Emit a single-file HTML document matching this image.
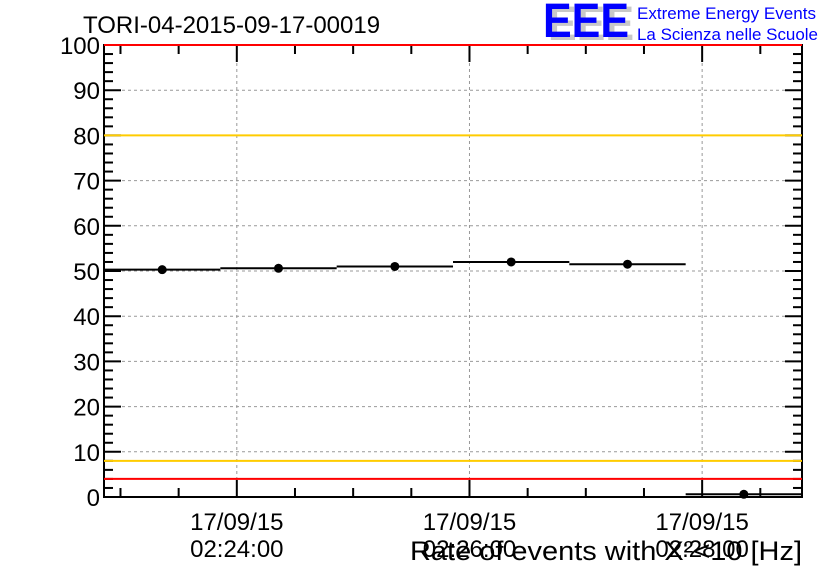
<!DOCTYPE html>
<html><head><meta charset="utf-8"><style>
body{margin:0;background:#fff;}
svg{display:block;font-family:"Liberation Sans",sans-serif;}
</style></head><body>
<svg id="c" width="836" height="572">
<text x="83" y="33" font-size="24">TORI-04-2015-09-17-00019</text>
<g>
<text x="548" y="40" font-size="48" font-weight="bold" fill="#c8c8c8" textLength="86" lengthAdjust="spacingAndGlyphs">EEE</text>
<text x="543" y="37" font-size="48" font-weight="bold" fill="#0000ff" textLength="86" lengthAdjust="spacingAndGlyphs">EEE</text>
<text x="637" y="19" font-size="17" fill="#0000ff" textLength="179" lengthAdjust="spacingAndGlyphs">Extreme Energy Events</text>
<text x="637" y="40" font-size="17" fill="#0000ff" textLength="181" lengthAdjust="spacingAndGlyphs">La Scienza nelle Scuole</text>
</g>
<g id="grid"></g><g id="axes"></g><g id="marks"></g>
<text x="802" y="560" font-size="27" text-anchor="end" textLength="392" lengthAdjust="spacingAndGlyphs">Rate of events with X²&lt;10 [Hz]</text>
</svg>
<script>
const binStarts=[-68.5,-8.5,51.5,111.5,171.5,231.5];
const rates=[50.3,50.6,51.0,52.0,51.5,0.6];
const errs=[0.5,0.5,0.5,0.5,0.5,0.3];
const yTicks=[0,10,20,30,40,50,60,70,80,90,100];
const xTicks=[0,120,240];
const xTickLabels=["02:24:00","02:26:00","02:28:00"];
const redLines=[100,4];
const orangeLines=[80,8];
const binWidth=60;
const L=104,R=802,T=45,B=497,x0=-68.5,x1=291.5;
const X=t=>L+(t-x0)/(x1-x0)*(R-L);
const Y=v=>B-v/100*(B-T);
const NS="http://www.w3.org/2000/svg";
function mk(p,tag,a){const e=document.createElementNS(NS,tag);for(const k in a)e.setAttribute(k,a[k]);p.appendChild(e);return e;}
const g=document.getElementById('grid'),ax=document.getElementById('axes'),m=document.getElementById('marks');
yTicks.forEach(v=>{if(v>0&&v<100){const l=mk(g,'line',{x1:L,x2:R,y1:Y(v),y2:Y(v),stroke:'#999','stroke-dasharray':'3,3'});

}
const t=mk(ax,'text',{x:L-4,y:Y(v)+9,'font-size':24,'text-anchor':'end'});t.textContent=v;


mk(ax,'line',{x1:L,x2:L+17,y1:Y(v),y2:Y(v),stroke:'#000','stroke-width':2});
mk(ax,'line',{x1:R,x2:R-17,y1:Y(v),y2:Y(v),stroke:'#000','stroke-width':2});});
for(let v=2;v<100;v+=2){if(v%10){mk(ax,'line',{x1:L,x2:L+9,y1:Y(v),y2:Y(v),stroke:'#000','stroke-width':2});mk(ax,'line',{x1:R,x2:R-9,y1:Y(v),y2:Y(v),stroke:'#000','stroke-width':2});}}
xTicks.forEach((t,i)=>{const l=mk(g,'line',{x1:X(t),x2:X(t),y1:T,y2:B,stroke:'#999','stroke-dasharray':'3,3'});


mk(ax,'line',{x1:X(t),x2:X(t),y1:B,y2:B-17,stroke:'#000','stroke-width':2});
mk(ax,'line',{x1:X(t),x2:X(t),y1:T,y2:T+17,stroke:'#000','stroke-width':2});
const a=mk(ax,'text',{x:X(t),y:530,'font-size':24,'text-anchor':'middle'});a.textContent='17/09/15';


const b=mk(ax,'text',{x:X(t),y:557,'font-size':24,'text-anchor':'middle'});b.textContent=xTickLabels[i];

});
for(let t=-60;t<=285;t+=30){if(xTicks.indexOf(t)<0){mk(ax,'line',{x1:X(t),x2:X(t),y1:B,y2:B-9,stroke:'#000','stroke-width':2});mk(ax,'line',{x1:X(t),x2:X(t),y1:T,y2:T+9,stroke:'#000','stroke-width':2});}}
orangeLines.forEach(v=>{const l=mk(m,'line',{x1:L,x2:R,y1:Y(v),y2:Y(v),stroke:'#ffcc00','stroke-width':2});

});
redLines.forEach(v=>{const l=mk(m,'line',{x1:L,x2:R,y1:Y(v),y2:Y(v),stroke:'#ff0000','stroke-width':2});

});
mk(ax,'rect',{x:L,y:T,width:R-L,height:B-T,fill:'none',stroke:'#000','stroke-width':2});
binStarts.forEach((s,i)=>{const y=Y(rates[i]),cx=X(s+binWidth/2);
mk(m,'line',{x1:X(s),x2:X(s+binWidth),y1:y,y2:y,stroke:'#000','stroke-width':2});
mk(m,'line',{x1:cx,x2:cx,y1:Y(rates[i]+errs[i]),y2:Y(rates[i]-errs[i]),stroke:'#000','stroke-width':2});
const c=mk(m,'circle',{cx:cx,cy:y,r:4.5,fill:'#000'});

});
</script>
</body></html>
